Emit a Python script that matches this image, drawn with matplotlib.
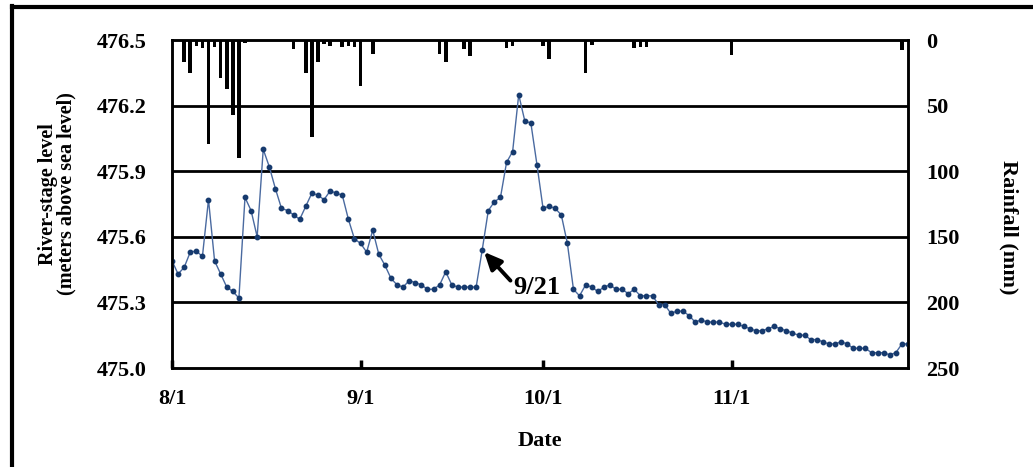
import matplotlib
matplotlib.use('Agg')
import matplotlib.pyplot as plt
from matplotlib.lines import Line2D
import numpy as np

plt.rcParams['font.family'] = ['Liberation Serif', 'DejaVu Serif']
plt.rcParams['font.weight'] = 'bold'

# ---- data ----
# daily river-stage level (m a.s.l.), 8/1 .. 11/30
stage = [
    475.49, 475.43, 475.46, 475.53, 475.535, 475.51, 475.77, 475.49, 475.43, 475.37,
    475.35, 475.32, 475.78, 475.72, 475.60, 476.00, 475.92, 475.82, 475.73, 475.72,
    475.70, 475.68, 475.74, 475.80, 475.79, 475.77, 475.81, 475.80, 475.79, 475.68,
    475.59, 475.57, 475.53, 475.63, 475.52, 475.47, 475.41, 475.38, 475.37, 475.40,
    475.39, 475.38, 475.36, 475.36, 475.38, 475.44, 475.38, 475.37, 475.37, 475.37,
    475.37, 475.54, 475.72, 475.76, 475.78, 475.94, 475.99, 476.25, 476.13, 476.12,
    475.93, 475.73, 475.74, 475.73, 475.70, 475.57, 475.36, 475.33, 475.38, 475.37,
    475.35, 475.37, 475.38, 475.36, 475.36, 475.34, 475.36, 475.33, 475.33, 475.33,
    475.29, 475.29, 475.25, 475.26, 475.26, 475.24, 475.21, 475.22, 475.21, 475.21,
    475.21, 475.20, 475.20, 475.20, 475.19, 475.18, 475.17, 475.17, 475.18, 475.19,
    475.18, 475.17, 475.16, 475.15, 475.15, 475.13, 475.13, 475.12, 475.11, 475.11,
    475.12, 475.11, 475.09, 475.09, 475.09, 475.07, 475.07, 475.07, 475.06, 475.07,
    475.11, 475.11,
]
# rainfall (mm): day index (0 = 8/1) and amount
rain_days = [2, 3, 4, 5, 6, 7, 8, 9, 10, 11, 12, 20, 22, 23, 24, 25, 26, 28, 29, 30,
             31, 33, 44, 45, 48, 49, 55, 56, 61, 62, 68, 69, 76, 77, 78, 92, 120]
rain_mm = [16.5, 25, 4.6, 6.4, 79, 5, 29, 37, 57, 90, 2.5, 7, 25, 74, 17, 3, 4.6, 5, 4.6, 5,
           35, 11, 10.7, 16.5, 7, 12, 5.8, 4.6, 4.6, 14.7, 25, 3.8, 6.4, 5, 5, 11.4, 8]

xtick_pos = [0, 31, 61, 92]
xtick_labels = ['8/1', '9/1', '10/1', '11/1']
stage_ticks = [475.0, 475.3, 475.6, 475.9, 476.2, 476.5]
rain_ticks = [0, 50, 100, 150, 200, 250]
annot_day = 51
annot_label = '9/21'

W, H = 1033, 467
fig = plt.figure(figsize=(W / 100, H / 100), dpi=100)
ax = fig.add_axes([172 / W, 1 - 368 / H, (908 - 172) / W, (368 - 40) / H])
ax2 = ax.twinx()

x = np.arange(len(stage))
for v in stage_ticks[1:-1]:
    ax.axhline(v, color='black', lw=2.0, zorder=1)
ax.plot(x, stage, color='#4a6aa0', lw=1.0, marker='o', ms=3.2,
        mfc='#163a6e', mec='#163a6e', zorder=3)
ax.set_xlim(0, len(stage) - 1)
ax.set_ylim(stage_ticks[0], stage_ticks[-1])
ax.set_yticks(stage_ticks)
ax.set_yticklabels([f'{v:.1f}' for v in stage_ticks])
ax.set_xticks(xtick_pos)
ax.set_xticklabels(xtick_labels)
ax.tick_params(axis='y', length=0, pad=18, labelsize=16)
ax.tick_params(axis='x', direction='in', length=6, width=2.5, pad=15, labelsize=16)

ax2.bar(rain_days, rain_mm, width=0.6, color='black', zorder=2)
ax2.set_ylim(rain_ticks[-1], rain_ticks[0])
ax2.set_yticks(rain_ticks)
ax2.tick_params(axis='y', length=0, pad=13, labelsize=16)

for a in (ax, ax2):
    for s in a.spines.values():
        s.set_linewidth(1.8)
        s.set_color('black')

ax.annotate(annot_label, xy=(annot_day, stage[annot_day]), xytext=(56.1, 475.37),
            textcoords='data', fontsize=19, fontweight='bold', ha='left', va='center',
            arrowprops=dict(arrowstyle='-|>,head_length=0.55,head_width=0.25',
                            color='black', lw=2.8, shrinkA=0, shrinkB=2, relpos=(0, 0.65)),
            zorder=5)

fig.text(57 / W, 1 - 194 / H, 'River-stage level\n(meters above sea level)', rotation=90,
         ha='center', va='center', multialignment='center', linespacing=0.92,
         fontsize=14.5)
fig.text(1009 / W, 1 - 227 / H, 'Rainfall (mm)', rotation=-90,
         ha='center', va='center', fontsize=16)
fig.text(540 / W, 1 - 441 / H, 'Date', ha='center', va='center', fontsize=16)

fig.add_artist(Line2D([12 / W, 1], [1 - 7 / H, 1 - 7 / H], lw=3, color='black',
                      transform=fig.transFigure))
fig.add_artist(Line2D([12 / W, 12 / W], [1 - 6 / H, 1 - 465 / H], lw=3, color='black',
                      transform=fig.transFigure))

fig.savefig('out.png', dpi=100, facecolor='white')
